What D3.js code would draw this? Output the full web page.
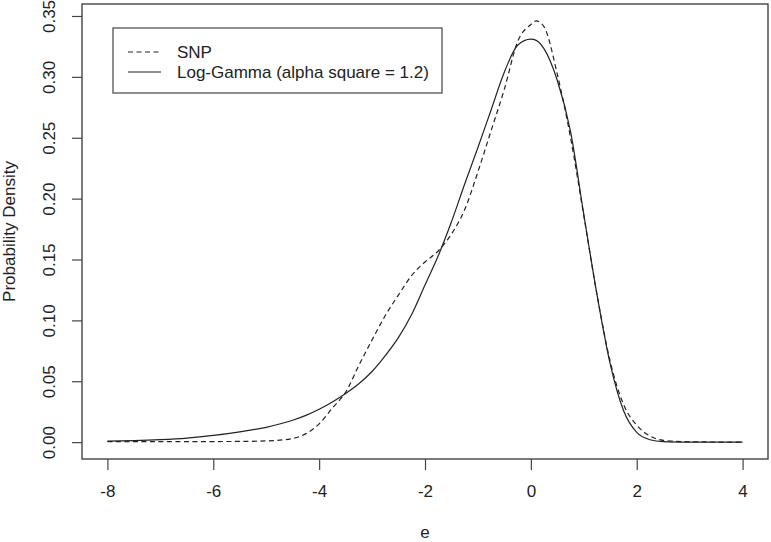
<!DOCTYPE html>
<html>
<head>
<meta charset="utf-8">
<script src="https://cdn.jsdelivr.net/npm/d3@7"></script>
<style>
  html, body { margin: 0; padding: 0; background: #fff; }
  svg { display: block; font-family: "Liberation Sans", Arial, sans-serif; }
</style>
</head>
<body>
<svg id="chart" width="771" height="542"></svg>
<script>
// ---- data ----
const eGrid = [-8, -7.5, -7, -6.5, -6, -5.5, -5, -4.5, -4.25, -4, -3.75, -3.5, -3.25, -3, -2.75, -2.5, -2.25, -2, -1.75, -1.5, -1.25, -1, -0.75, -0.5, -0.25, 0, 0.1, 0.25, 0.5, 0.75, 1, 1.25, 1.5, 1.75, 2, 2.25, 2.5, 3, 3.5, 4];
const snpDensity = [0.0005, 0.0005, 0.0005, 0.0005, 0.0005, 0.0006, 0.001, 0.003, 0.007, 0.015, 0.028, 0.041, 0.063, 0.084, 0.104, 0.121, 0.137, 0.148, 0.157, 0.171, 0.191, 0.222, 0.256, 0.290, 0.329, 0.343, 0.346, 0.341, 0.302, 0.250, 0.186, 0.121, 0.066, 0.031, 0.014, 0.005, 0.0015, 0.0003, 0.0001, 0];
const logGammaDensity = [0.0008, 0.0012, 0.002, 0.0033, 0.0055, 0.0085, 0.0122, 0.018, 0.022, 0.027, 0.033, 0.040, 0.048, 0.058, 0.071, 0.086, 0.105, 0.129, 0.153, 0.181, 0.212, 0.242, 0.273, 0.304, 0.326, 0.331, 0.330, 0.323, 0.297, 0.255, 0.187, 0.121, 0.064, 0.026, 0.008, 0.002, 0.0005, 0.0001, 0, 0];
const xTicks = [-8, -6, -4, -2, 0, 2, 4];
const yTicks = [0, 0.05, 0.10, 0.15, 0.20, 0.25, 0.30, 0.35];
const seriesNames = ["SNP", "Log-Gamma (alpha square = 1.2)"];
const xLabel = "e";
const yLabel = "Probability Density";

// ---- layout ----
const svg = d3.select("#chart");
const plot = { left: 82, right: 768, top: 4, bottom: 459 };
const fontSize = 17;
const ink = "#222";

const xMin = -8, xMax = 4;
const xPad = (xMax - xMin) * 0.04;
const yMaxData = d3.max([d3.max(snpDensity), d3.max(logGammaDensity)]);
const yPad = yMaxData * 0.04;

const x = d3.scaleLinear().domain([xMin - xPad, xMax + xPad]).range([plot.left, plot.right]);
const y = d3.scaleLinear().domain([0 - yPad, yMaxData + yPad]).range([plot.bottom, plot.top]);

// frame
svg.append("rect")
  .attr("x", plot.left).attr("y", plot.top)
  .attr("width", plot.right - plot.left).attr("height", plot.bottom - plot.top)
  .attr("fill", "none").attr("stroke", "#444").attr("stroke-width", 1.4);

// x axis
const xAxis = d3.axisBottom(x).tickValues(xTicks).tickSize(11).tickPadding(0).tickFormat(d3.format("d"));
const gx = svg.append("g").attr("transform", `translate(0,${plot.bottom})`).call(xAxis);
gx.select(".domain").remove();
gx.selectAll(".tick line").attr("stroke", "#444").attr("stroke-width", 1.2);
gx.selectAll(".tick text")
  .attr("y", 38).attr("dy", null)
  .attr("fill", ink).style("font-size", fontSize + "px").style("font-family", "Liberation Sans, Arial, sans-serif")
  .text(d => d < 0 ? "-" + Math.abs(d) : String(d));

// y axis
const yAxis = d3.axisLeft(y).tickValues(yTicks).tickSize(10).tickFormat(d3.format(".2f"));
const gy = svg.append("g").attr("transform", `translate(${plot.left},0)`).call(yAxis);
gy.select(".domain").remove();
gy.selectAll(".tick line").attr("stroke", "#444").attr("stroke-width", 1.2);
gy.selectAll(".tick text")
  .attr("x", null).attr("dy", null)
  .attr("transform", "translate(-27,0) rotate(-90)")
  .attr("text-anchor", "middle")
  .attr("fill", ink).style("font-size", fontSize + "px").style("font-family", "Liberation Sans, Arial, sans-serif");

// axis titles
svg.append("text")
  .attr("x", (plot.left + plot.right) / 2).attr("y", 538)
  .attr("text-anchor", "middle").attr("fill", ink)
  .style("font-size", fontSize + "px").text(xLabel);
svg.append("text")
  .attr("transform", `translate(15,${(plot.top + plot.bottom) / 2}) rotate(-90)`)
  .attr("text-anchor", "middle").attr("fill", ink)
  .style("font-size", fontSize + "px").text(yLabel);

// curves
const line = d3.line().x(d => x(d[0])).y(d => y(d[1])).curve(d3.curveMonotoneX);
const clip = svg.append("clipPath").attr("id", "clip").append("rect")
  .attr("x", plot.left).attr("y", plot.top).attr("width", plot.right - plot.left).attr("height", plot.bottom - plot.top);

svg.append("path")
  .datum(eGrid.map((e, i) => [e, snpDensity[i]]))
  .attr("d", line).attr("fill", "none").attr("stroke", ink)
  .attr("stroke-width", 1.2).attr("stroke-dasharray", "5,3.5")
  .attr("clip-path", "url(#clip)");
svg.append("path")
  .datum(eGrid.map((e, i) => [e, logGammaDensity[i]]))
  .attr("d", line).attr("fill", "none").attr("stroke", ink)
  .attr("stroke-width", 1.2)
  .attr("clip-path", "url(#clip)");

// legend
const lg = svg.append("g");
lg.append("rect").attr("x", 113).attr("y", 28).attr("width", 329).attr("height", 65)
  .attr("fill", "#fff").attr("stroke", "#444").attr("stroke-width", 1.2);
const legendRows = [
  { name: seriesNames[0], dash: "5,3.5", cy: 52 },
  { name: seriesNames[1], dash: null, cy: 72 }
];
legendRows.forEach(r => {
  lg.append("line").attr("x1", 128).attr("x2", 161).attr("y1", r.cy).attr("y2", r.cy)
    .attr("stroke", ink).attr("stroke-width", 1.2)
    .attr("stroke-dasharray", r.dash);
  lg.append("text").attr("x", 177).attr("y", r.cy + 6).attr("fill", ink)
    .style("font-size", fontSize + "px").text(r.name);
});
</script>
</body>
</html>
